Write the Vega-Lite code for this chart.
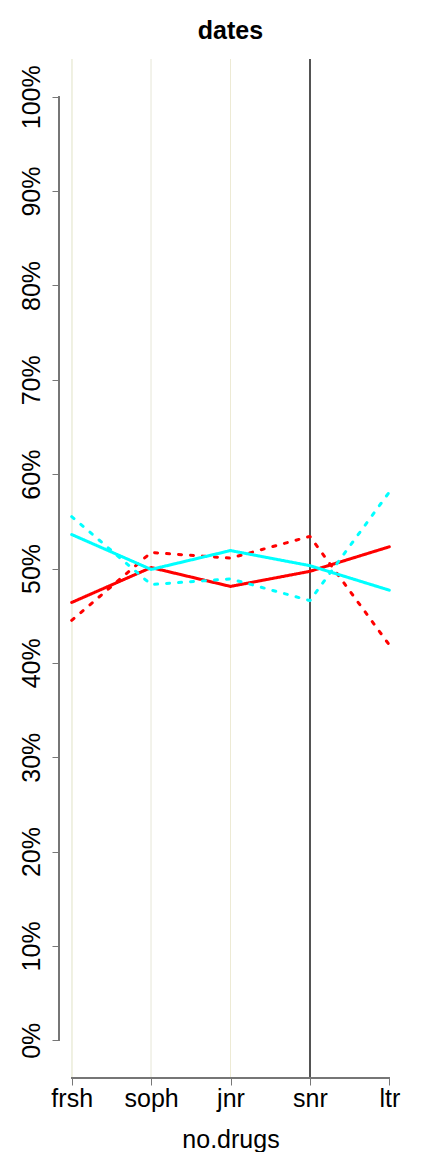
{
  "$schema": "https://vega.github.io/schema/vega-lite/v6.json",
  "width": 343,
  "height": 1019,
  "autosize": {"type": "none"},
  "padding": {"left": 59, "top": 59, "right": 30, "bottom": 74},
  "background": "white",
  "config": {"view": {"stroke": null}, "font": "Liberation Sans"},
  "title": {"text": "dates", "fontSize": 25, "fontWeight": "bold", "font": "Liberation Sans", "anchor": "middle", "frame": "group", "baseline": "alphabetic", "offset": 21, "dy": 26, "color": "black"},
  "data": {"values": [
    {"grade": "frsh", "idx": 1, "group": "A", "type": "solid", "value": 0.464},
    {"grade": "soph", "idx": 2, "group": "A", "type": "solid", "value": 0.501},
    {"grade": "jnr", "idx": 3, "group": "A", "type": "solid", "value": 0.481},
    {"grade": "snr", "idx": 4, "group": "A", "type": "solid", "value": 0.497},
    {"grade": "ltr", "idx": 5, "group": "A", "type": "solid", "value": 0.523},
    {"grade": "frsh", "idx": 1, "group": "A", "type": "dotted", "value": 0.445},
    {"grade": "soph", "idx": 2, "group": "A", "type": "dotted", "value": 0.517},
    {"grade": "jnr", "idx": 3, "group": "A", "type": "dotted", "value": 0.511},
    {"grade": "snr", "idx": 4, "group": "A", "type": "dotted", "value": 0.534},
    {"grade": "ltr", "idx": 5, "group": "A", "type": "dotted", "value": 0.419},
    {"grade": "frsh", "idx": 1, "group": "B", "type": "solid", "value": 0.536},
    {"grade": "soph", "idx": 2, "group": "B", "type": "solid", "value": 0.499},
    {"grade": "jnr", "idx": 3, "group": "B", "type": "solid", "value": 0.519},
    {"grade": "snr", "idx": 4, "group": "B", "type": "solid", "value": 0.503},
    {"grade": "ltr", "idx": 5, "group": "B", "type": "solid", "value": 0.477},
    {"grade": "frsh", "idx": 1, "group": "B", "type": "dotted", "value": 0.555},
    {"grade": "soph", "idx": 2, "group": "B", "type": "dotted", "value": 0.483},
    {"grade": "jnr", "idx": 3, "group": "B", "type": "dotted", "value": 0.489},
    {"grade": "snr", "idx": 4, "group": "B", "type": "dotted", "value": 0.466},
    {"grade": "ltr", "idx": 5, "group": "B", "type": "dotted", "value": 0.581}
  ]},
  "encoding": {
    "x": {"field": "idx", "type": "quantitative",
      "scale": {"domain": [0.84, 5.16], "nice": false, "zero": false},
      "axis": {"values": [1, 2, 3, 4, 5], "domain": false, "grid": false, "tickSize": 7, "tickColor": "#777", "tickWidth": 1,
        "labelExpr": "['','frsh','soph','jnr','snr','ltr'][datum.value]",
        "labelFontSize": 25, "labelFont": "Liberation Sans", "labelColor": "black", "labelPadding": 1, "labelFlush": false, "labelOverlap": false,
        "title": "no.drugs", "titleFontSize": 25, "titleFont": "Liberation Sans", "titleFontWeight": "normal", "titleColor": "black", "titlePadding": 16}},
    "y": {"field": "value", "type": "quantitative",
      "scale": {"domain": [-0.04, 1.04], "nice": false, "zero": false},
      "axis": {"values": [0, 0.1, 0.2, 0.3, 0.4, 0.5, 0.6, 0.7, 0.8, 0.9, 1], "format": ".0%", "domain": false, "grid": false, "tickSize": 7, "tickColor": "#777", "tickWidth": 1,
        "labelAngle": -90, "labelFontSize": 25, "labelFont": "Liberation Sans", "labelColor": "black", "labelPadding": 8, "labelOverlap": false, "labelFlush": false,
        "title": null}}
  },
  "layer": [
    {"mark": {"type": "rule", "color": "#EEF0E2", "strokeWidth": 1}, "encoding": {"x": {"datum": 1}, "y": null}},
    {"mark": {"type": "rule", "color": "#F2F2EA", "strokeWidth": 1}, "encoding": {"x": {"datum": 2}, "y": null}},
    {"mark": {"type": "rule", "color": "#EDEAD4", "strokeWidth": 1}, "encoding": {"x": {"datum": 3}, "y": null}},
    {"mark": {"type": "rule", "color": "#555555", "strokeWidth": 1}, "encoding": {"x": {"datum": 4}, "y": null}},
    {"mark": {"type": "rule", "color": "#777777", "strokeWidth": 1}, "encoding": {"x": {"datum": 0.84}, "y": {"datum": 0}, "y2": {"datum": 1}}},
    {"mark": {"type": "rule", "color": "#777777", "strokeWidth": 1}, "encoding": {"y": {"datum": -0.04}, "x": {"datum": 1}, "x2": {"datum": 5}}},
    {"mark": {"type": "line", "strokeWidth": 3, "strokeCap": "round", "strokeJoin": "round"},
      "encoding": {
        "color": {"field": "group", "type": "nominal", "scale": {"domain": ["A", "B"], "range": ["#FF0000", "#00FFFF"]}, "legend": null},
        "strokeDash": {"field": "type", "type": "nominal", "scale": {"domain": ["solid", "dotted"], "range": [[1, 0], [3, 9]]}, "legend": null},
        "detail": {"field": "type"},
        "order": {"field": "idx"}
      }}
  ]
}
